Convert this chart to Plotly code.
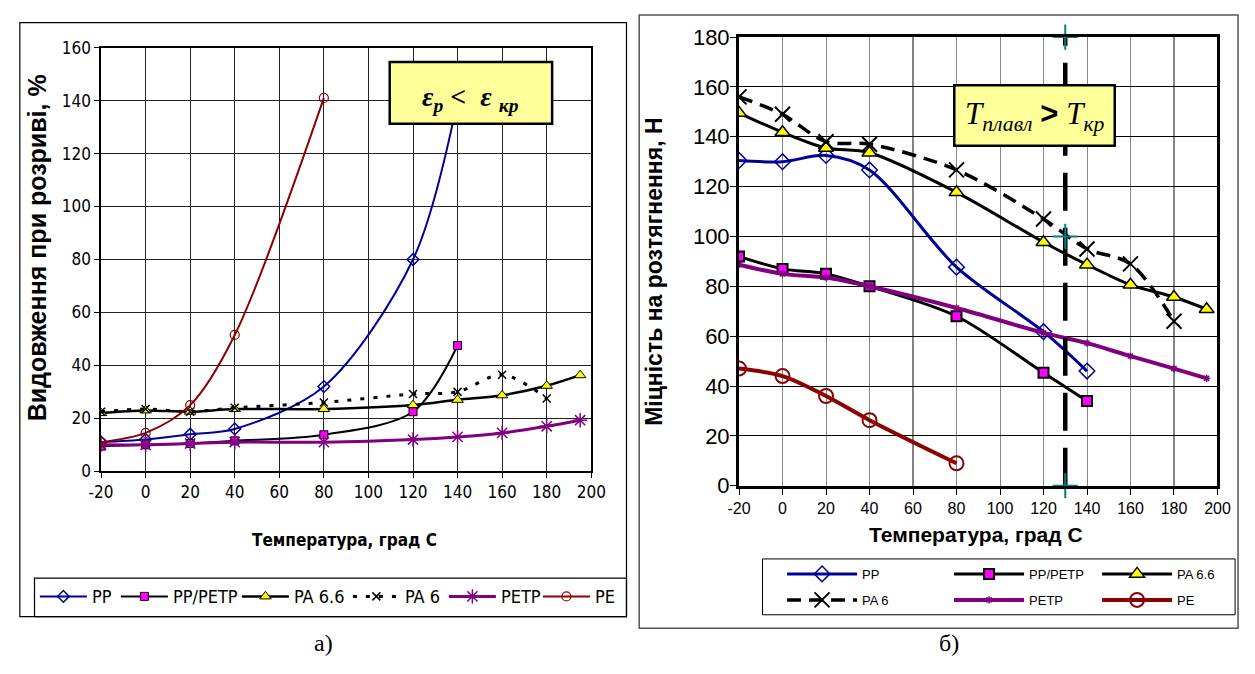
import plotly.graph_objects as go

W, H = 1255, 674


def fx(p):
    return p / W


def fy(p):
    return 1 - p / H


NARROW = "Liberation Sans Narrow, Arial Narrow, DejaVu Sans Condensed, sans-serif"
SANS = "Liberation Sans, Arial, sans-serif"
SERIF = "Liberation Serif, Times New Roman, serif"

# ---------------- chart a) elongation at break, % ----------------
a_pp_t = [-20, 0, 20, 40, 80, 120, 140]
a_pp = [11, 12, 14, 16, 32, 80, 140]
a_pppetp_t = [-20, 0, 20, 40, 80, 120, 140]
a_pppetp = [9.5, 10, 10.5, 11.5, 13.8, 22.5, 47.5]
a_pa66_t = [-20, 0, 20, 40, 80, 120, 140, 160, 180, 195]
a_pa66 = [22, 23, 22.5, 23.5, 23.5, 25, 27, 28.7, 32.3, 36.3]
a_pa6_t = [-20, 0, 20, 40, 80, 120, 140, 160, 180]
a_pa6 = [22.5, 23.5, 22.5, 24, 26, 29.2, 30, 36.5, 27.5]
a_petp_t = [-20, 0, 20, 40, 80, 120, 140, 160, 180, 195]
a_petp = [10, 10, 10.5, 11, 11, 12, 13, 14.5, 17, 19.3]
a_pe_t = [-20, 0, 20, 40, 80]
a_pe = [11, 14.5, 25, 51.5, 141]

# ---------------- chart б) tensile strength, N ----------------
b_pp_t = [-20, 0, 20, 40, 80, 120, 140]
b_pp = [130.5, 130, 132.5, 126.7, 87.7, 61.8, 46]
b_pppetp_t = [-20, 0, 20, 40, 80, 120, 140]
b_pppetp = [92, 87, 85, 80, 68, 45.3, 34]
b_pa66_t = [-20, 0, 20, 40, 80, 120, 140, 160, 180, 195]
b_pa66 = [149.5, 141.8, 135.5, 133.6, 117.7, 97.7, 88.7, 80.6, 75.7, 70.8]
b_pa6_t = [-20, 0, 20, 40, 80, 120, 140, 160, 180]
b_pa6 = [156, 149, 138, 137, 126.7, 107, 95, 89, 66]
b_petp_t = [-20, 0, 20, 40, 80, 120, 140, 160, 180, 195]
b_petp = [88.7, 85, 83.5, 80, 71.3, 61.3, 57.2, 52, 47, 43.1]
b_pe_t = [-20, 0, 20, 40, 80]
b_pe = [47, 44, 36, 26.3, 9]
b_tkr_t = [130, 130, 130]
b_tkr = [0, 100, 180]

x_ticks = [-20, 0, 20, 40, 60, 80, 100, 120, 140, 160, 180, 200]
x_ticktext = ["-20", "0", "20", "40", "60", "80", "100", "120", "140", "160", "180", "200"]

NAVY = "#000099"
DRED = "#8B0000"
PURP = "#800080"
MAG = "#FF00FF"
YEL = "#FFFF00"

fig = go.Figure()

# ---- left chart traces ----
left = [
    ("PP", a_pp_t, a_pp, dict(color=NAVY, width=2),
     dict(symbol="diamond-open", size=9, color=NAVY, line=dict(color=NAVY, width=1.5)), 19),
    ("PP/PETP", a_pppetp_t, a_pppetp, dict(color="black", width=2),
     dict(symbol="square", size=8, color=MAG, line=dict(color="black", width=1)), 59),
    ("PA 6.6", a_pa66_t, a_pa66, dict(color="black", width=2.5),
     dict(symbol="triangle-up", size=10, color=YEL, line=dict(color="black", width=1)), 49),
    ("PA 6", a_pa6_t, a_pa6, dict(color="black", width=3, dash="4px,9px"),
     dict(symbol="x-thin-open", size=8, color="black", line=dict(color="black", width=1.5)), 34),
    ("PETP", a_petp_t, a_petp, dict(color=PURP, width=3),
     dict(symbol="asterisk-open", size=12, color=PURP, line=dict(color=PURP, width=1.5)), 32),
    ("PE", a_pe_t, a_pe, dict(color=DRED, width=2),
     dict(symbol="circle-open", size=9, color=DRED, line=dict(color=DRED, width=1.2)), 25),
]
for name, xs, ys, ln, mk, lw in left:
    fig.add_trace(go.Scatter(
        x=xs, y=ys, name=name, mode="lines+markers", line=dict(shape="spline", smoothing=0.9, **ln),
        marker=mk, xaxis="x", yaxis="y", legend="legend", legendwidth=lw, cliponaxis=True))

# ---- right chart traces ----
right = [
    ("PP", b_pp_t, b_pp, dict(color=NAVY, width=3),
     dict(symbol="diamond-open", size=12, color=NAVY, line=dict(color=NAVY, width=1.5)), "legend2", 82),
    ("PP/PETP", b_pppetp_t, b_pppetp, dict(color="black", width=3),
     dict(symbol="square", size=10, color=MAG, line=dict(color="black", width=2)), "legend2", 63),
    ("PA 6.6", b_pa66_t, b_pa66, dict(color="black", width=3),
     dict(symbol="triangle-up", size=13, color=YEL, line=dict(color="black", width=1.5)), "legend2", 60),
    ("PA 6", b_pa6_t, b_pa6, dict(color="black", width=3.5, dash="14px,8px"),
     dict(symbol="x-thin-open", size=15, color="black", line=dict(color="black", width=2)), "legend3", 82),
    ("PETP", b_petp_t, b_petp, dict(color=PURP, width=4),
     dict(symbol="asterisk-open", size=6, color=PURP, line=dict(color=PURP, width=1.5)), "legend3", 63),
    ("PE", b_pe_t, b_pe, dict(color=DRED, width=4),
     dict(symbol="circle-open", size=14, color=DRED, line=dict(color=DRED, width=2)), "legend3", 60),
]
for name, xs, ys, ln, mk, lg, lw in right:
    fig.add_trace(go.Scatter(
        x=xs, y=ys, name=name, mode="lines+markers", line=dict(shape="spline", smoothing=0.9, **ln),
        marker=mk, xaxis="x2", yaxis="y2", legend=lg, legendwidth=lw))

fig.add_trace(go.Scatter(
    x=b_tkr_t, y=b_tkr, mode="lines+markers", showlegend=False, xaxis="x2", yaxis="y2",
    line=dict(color="black", width=4.5, dash="38px,17px"),
    marker=dict(symbol="cross-thin-open", size=18, color="#008080", line=dict(color="#008080", width=2)),
    cliponaxis=False))

shapes = [
    # outer frames
    dict(type="rect", xref="paper", yref="paper", x0=fx(8), x1=fx(628), y0=fy(628), y1=fy(11),
         line=dict(color="black", width=1.2), layer="below"),
    dict(type="rect", xref="paper", yref="paper", x0=fx(641), x1=fx(1253), y0=fy(640), y1=fy(3),
         line=dict(color="#555555", width=1.5), layer="below"),
    # legend boxes
    dict(type="rect", xref="paper", yref="paper", x0=fx(23), x1=fx(628), y0=fy(628), y1=fy(588),
         line=dict(color="black", width=1.2), layer="below"),
    dict(type="rect", xref="paper", yref="paper", x0=fx(767), x1=fx(1250), y0=fy(626), y1=fy(568),
         line=dict(color="black", width=1), layer="below"),
    # black vertical gridlines on right chart
    dict(type="line", xref="x2", yref="y2 domain", x0=60, x1=60, y0=0, y1=1,
         line=dict(color="black", width=1), layer="below"),
    dict(type="line", xref="x2", yref="y2 domain", x0=180, x1=180, y0=0, y1=1,
         line=dict(color="black", width=1), layer="below"),
    # text boxes
    dict(type="rect", xref="paper", yref="paper", x0=fx(386), x1=fx(552), y0=fy(116), y1=fy(52),
         fillcolor="#FFFF99", line=dict(color="black", width=2.5), layer="above"),
    dict(type="rect", xref="paper", yref="paper", x0=fx(963), x1=fx(1127), y0=fy(139), y1=fy(76),
         fillcolor="#FFFF99", line=dict(color="black", width=2.5), layer="above"),
]


def ann(x, y, text, font, angle=0):
    return dict(xref="paper", yref="paper", x=fx(x), y=fy(y), showarrow=False,
                xanchor="center", yanchor="middle", text=text, textangle=angle, font=font)


annotations = [
    ann(469, 90, "<b><i>ε</i><sub><i>p</i></sub> &lt;  <i>ε</i> <sub><i>кр</i></sub></b>",
        dict(family=SERIF, size=28, color="black")),
    ann(1045, 108,
        "<i>T</i><sub><i>плавл</i></sub> <span style='font-family:Liberation Sans, Arial; font-weight:bold'>&gt;</span> <i>T</i><sub><i>кр</i></sub>",
        dict(family=SERIF, size=31, color="black")),
    ann(340, 548, "<b>Температура, град С</b>", dict(family=NARROW, size=17, color="black")),
    ann(985, 543, "<b>Температура, град С</b>", dict(family=SANS, size=21, color="black")),
    ann(25, 245, "<b>Видовження при розриві, %</b>", dict(family=SANS, size=25, color="black"), -90),
    ann(656, 270, "<b>Міцність на розтягнення, Н</b>", dict(family=SANS, size=23, color="black"), -90),
    ann(318, 655, "а)", dict(family=SERIF, size=24, color="black")),
    ann(958, 655, "б)", dict(family=SERIF, size=24, color="black")),
]

fig.update_layout(
    width=W, height=H, margin=dict(l=0, r=0, t=0, b=0),
    paper_bgcolor="white", plot_bgcolor="white",
    shapes=shapes, annotations=annotations,
    xaxis=dict(domain=[fx(91), fx(592)], range=[-20, 200], tickvals=x_ticks, ticktext=x_ticktext,
               anchor="y", showgrid=True, gridcolor="#222222", gridwidth=1, zeroline=False,
               showline=True, linecolor="black", linewidth=1.5, mirror=True,
               ticks="outside", ticklen=5, tickcolor="black",
               tickfont=dict(family=NARROW, size=17, color="black")),
    yaxis=dict(domain=[fy(477), fy(37)], range=[0, 160], dtick=20, anchor="x",
               showgrid=True, gridcolor="#222222", gridwidth=1, zeroline=False,
               showline=True, linecolor="black", linewidth=1.5, mirror=True,
               ticks="outside", ticklen=5, tickcolor="black",
               tickfont=dict(family=NARROW, size=17, color="black")),
    xaxis2=dict(domain=[fx(743), fx(1232)], range=[-20, 200], tickvals=x_ticks, ticktext=x_ticktext,
                anchor="y2", showgrid=True, gridcolor="#888888", gridwidth=1, zeroline=False,
                showline=True, linecolor="black", linewidth=3, mirror=True,
                ticks="outside", ticklen=6, tickcolor="black",
                tickfont=dict(family=SANS, size=16, color="black")),
    yaxis2=dict(domain=[fy(492), fy(26)], range=[0, 180], dtick=20, anchor="x2",
                showgrid=True, gridcolor="black", gridwidth=1, zeroline=False,
                showline=True, linecolor="black", linewidth=3, mirror=True,
                ticks="outside", ticklen=6, tickcolor="black", ticklabelstandoff=-4,
                tickfont=dict(family=SANS, size=22, color="black")),
    legend=dict(orientation="h", x=fx(23.4), y=fy(588), xanchor="left", yanchor="top",
                itemwidth=47, bgcolor="rgba(0,0,0,0)", borderwidth=0,
                font=dict(family=NARROW, size=18, color="black")),
    legend2=dict(orientation="h", x=fx(787), y=fy(568), xanchor="left", yanchor="top",
                 itemwidth=70, bgcolor="rgba(0,0,0,0)", borderwidth=0,
                 font=dict(family=SANS, size=13, color="black")),
    legend3=dict(orientation="h", x=fx(787), y=fy(595), xanchor="left", yanchor="top",
                 itemwidth=70, bgcolor="rgba(0,0,0,0)", borderwidth=0,
                 font=dict(family=SANS, size=13, color="black")),
)

fig.write_html("out.html")
